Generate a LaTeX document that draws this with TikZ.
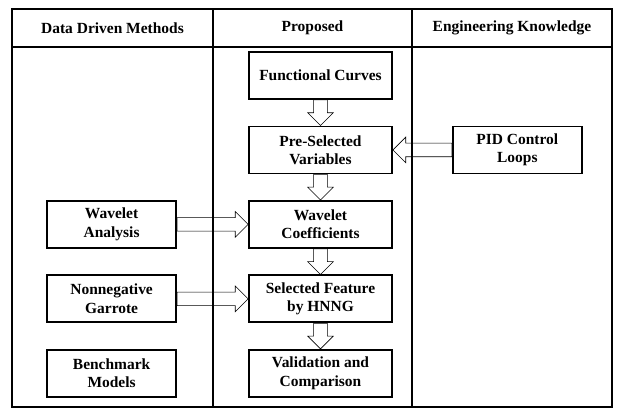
\documentclass[tikz,border=0pt]{standalone}
\usepackage{fontspec}
\setmainfont{Liberation Serif}
\usetikzlibrary{calc, positioning}

\begin{document}
\begin{tikzpicture}[x=0.025cm, y=-0.025cm,
      every node/.style={font=\bfseries\fontsize{11}{13}\selectfont},
      box/.style={draw, line width=1.3pt, align=center, inner sep=0pt,
                  minimum height=1.175cm},
      mid/.style={box, minimum width=3.575cm},
      side/.style={box, minimum width=3.225cm},
      hollow/.style={draw, fill=white, line width=1.3pt, line join=miter,
        to path={let \p1=(\tikztostart), \p2=(\tikztotarget),
          \p3=($(\p2)!0.32cm!(\p1)$) in
          ($(\p1)!0.17cm!90:(\p2)$) -- ($(\p3)!0.17cm!90:(\p2)$)
          -- ($(\p3)!0.32cm!90:(\p2)$) -- (\p2)
          -- ($(\p3)!0.32cm!-90:(\p2)$) -- ($(\p3)!0.17cm!-90:(\p2)$)
          -- ($(\p1)!0.17cm!-90:(\p2)$) -- cycle}}]
    \useasboundingbox (0,0) rectangle (620,409);

    % proposed column
    \node[mid] (fc) at (320.5,75.5) {Functional Curves};
    \node[mid, below=0.64cm of fc] (psv) {Pre-Selected\\Variables};
    \node[mid, below=0.64cm of psv] (wc) {Wavelet\\Coefficients};
    \node[mid, below=0.64cm of wc] (sel) {Selected Feature\\by HNNG};
    \node[mid, below=0.64cm of sel] (val) {Validation and\\Comparison};

    % data driven / engineering columns
    \node[side, left=1.775cm of wc] (wa) {Wavelet\\Analysis};
    \node[side, left=1.775cm of sel] (ng) {Nonnegative\\Garrote};
    \node[side, left=1.775cm of val] (bm) {Benchmark\\Models};
    \node[side, right=1.475cm of psv] (pid) {PID Control\\Loops};

    \draw (fc.south) to[hollow] (psv.north);
    \draw (psv.south) to[hollow] (wc.north);
    \draw (wc.south) to[hollow] (sel.north);
    \draw (sel.south) to[hollow] (val.north);
    \draw (wa.east) to[hollow] (wc.west);
    \draw (ng.east) to[hollow] (sel.west);
    \draw (pid.west) to[hollow] (psv.east);

    % table frame
    \draw[line width=1.2pt] (12,9) rectangle (612,407)
      (12,47) -- (612,47) (213,9) -- (213,407) (412,9) -- (412,407);
    \node (h1) at (112.5,28) {Data Driven Methods};
    \node (h2) at (312.5,28) {Proposed};
    \node (h3) at (512,28) {Engineering Knowledge};
  \end{tikzpicture}
\end{document}
